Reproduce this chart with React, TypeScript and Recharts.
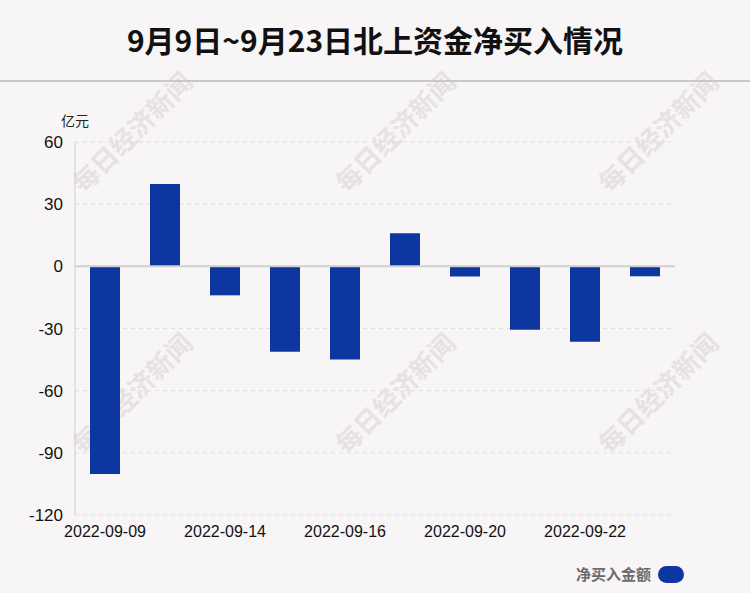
import React from "react";
import { BarChart, Bar, XAxis, YAxis, CartesianGrid, ReferenceLine } from "recharts";

const dates = [
  "2022-09-09",
  "2022-09-13",
  "2022-09-14",
  "2022-09-15",
  "2022-09-16",
  "2022-09-19",
  "2022-09-20",
  "2022-09-21",
  "2022-09-22",
  "2022-09-23",
];
const netBuy = [-100.2, 39.7, -14.0, -41.2, -45.0, 16.0, -4.9, -30.6, -36.4, -4.8];
const yTicks = [60, 30, 0, -30, -60, -90, -120];
const seriesName = "净买入金额";
const title = "9月9日~9月23日北上资金净买入情况";
const unit = "亿元";
const watermark = "每日经济新闻";
const watermarkSpots = [
  [131, 131],
  [394, 131],
  [657, 131],
  [131, 392],
  [394, 392],
  [657, 392],
];

const data = dates.map((d, i) => ({ date: d, value: netBuy[i] }));

const BAR = "#0d36a0";
const FONT = "'Liberation Sans', Arial, 'Noto Sans CJK SC', sans-serif";

export default function App() {
  return (
    <div
      style={{
        position: "absolute",
        left: 0,
        top: 0,
        width: 750,
        height: 593,
        background: "#f8f5f6",
        fontFamily: FONT,
        overflow: "hidden",
      }}
    >
      <svg width={750} height={593} style={{ position: "absolute", left: 0, top: 0 }}>
        {watermarkSpots.map(([x, y], i) => (
          <text
            key={i}
            x={x}
            y={y}
            transform={`rotate(-45 ${x} ${y})`}
            textAnchor="middle"
            dominantBaseline="central"
            fontFamily="'Noto Sans CJK SC', sans-serif"
            fontWeight={700}
            fontSize={26}
            fill="#e6e2e3"
          >
            {watermark}
          </text>
        ))}
      </svg>
      <div
        style={{
          position: "absolute",
          left: 0,
          top: 18,
          width: 750,
          textAlign: "center",
          fontFamily: "'Noto Sans CJK SC', sans-serif",
          fontWeight: 700,
          fontSize: 30,
          lineHeight: "42px",
          color: "#111",
        }}
      >
        {title}
      </div>
      <div style={{ position: "absolute", left: 0, top: 80, width: 750, height: 2, background: "#c8c8c8" }} />
      <div
        style={{
          position: "absolute",
          left: 61,
          top: 111,
          fontFamily: "'Noto Sans CJK SC', sans-serif",
          fontSize: 14,
          lineHeight: "18px",
          color: "#222",
        }}
      >
        {unit}
      </div>
      <div style={{ position: "absolute", left: 0, top: 0 }}>
        <BarChart
          width={750}
          height={593}
          data={data}
          margin={{ top: 142, right: 75, bottom: 48, left: 15 }}
        >
          <CartesianGrid horizontal vertical={false} stroke="#dedede" strokeDasharray="4 4" />
          <XAxis
            dataKey="date"
            axisLine={false}
            tickLine={false}
            interval={1}
            height={30}
            tickMargin={5}
            tick={{ fill: "#111", fontSize: 16, fontFamily: FONT }}
          />
          <YAxis
            domain={[-120, 60]}
            ticks={yTicks}
            interval={0}
            width={60}
            axisLine={{ stroke: "#cfcfcf" }}
            tickLine={false}
            tickMargin={6}
            tick={{ fill: "#111", fontSize: 17, fontFamily: FONT }}
          />
          <ReferenceLine y={0} stroke="#cfcfcf" strokeWidth={2} />
          <Bar dataKey="value" name={seriesName} fill={BAR} barSize={30} isAnimationActive={false} />
        </BarChart>
      </div>
      <div
        style={{
          position: "absolute",
          right: 66,
          top: 564,
          display: "flex",
          alignItems: "center",
        }}
      >
        <span
          style={{
            fontFamily: "'Noto Sans CJK SC', sans-serif",
            fontWeight: 700,
            fontSize: 15,
            lineHeight: "20px",
            color: "#6b6b6b",
          }}
        >
          {seriesName}
        </span>
        <span
          style={{
            display: "inline-block",
            width: 26,
            height: 17,
            borderRadius: 9,
            background: BAR,
            marginLeft: 7,
          }}
        />
      </div>
    </div>
  );
}
